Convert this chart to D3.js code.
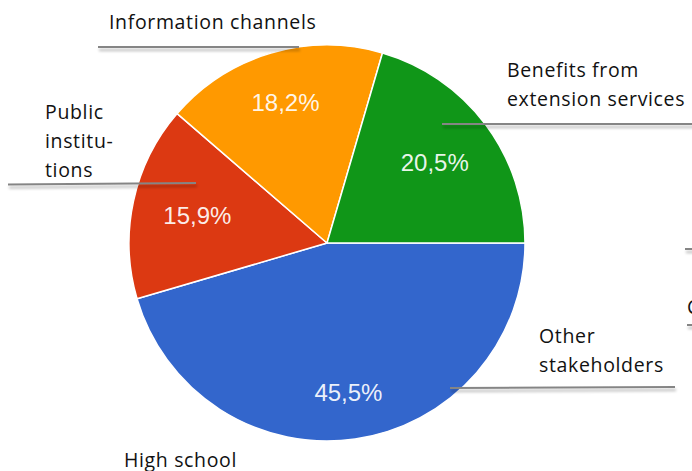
<!DOCTYPE html>
<html>
<head>
<meta charset="utf-8">
<script src="https://cdn.jsdelivr.net/npm/d3@7"></script>
<style>
  html, body { margin: 0; padding: 0; background: #fff; overflow: hidden; }
  svg { display: block; }
</style>
</head>
<body>
<svg id="chart" width="692" height="471"></svg>
<script>
// Shares of respondents by category (percent)
const categories = ["Other stakeholders", "Public institutions", "Information channels", "Benefits from extension services"];
const values = [45.5, 15.9, 18.2, 20.5];
const valueLabels = ["45,5%", "15,9%", "18,2%", "20,5%"];
const colors = ["#3366cc", "#dc3912", "#ff9900", "#109618"];
// radial placement of the percentage inside each slice, as a fraction of the radius
const labelRadius = [0.76, 0.67, 0.74, 0.68];

const width = 692, height = 471;
const cx = 327, cy = 243, R = 198;

const svg = d3.select("#chart");

// soft shadow used under the callout lines
const defs = svg.append("defs");
const f = defs.append("filter").attr("id", "shadow")
  .attr("filterUnits", "userSpaceOnUse")
  .attr("x", 0).attr("y", 0).attr("width", width).attr("height", height);
f.append("feGaussianBlur").attr("in", "SourceAlpha").attr("stdDeviation", 1.6).attr("result", "b");
f.append("feOffset").attr("in", "b").attr("dx", 1).attr("dy", 3).attr("result", "o");
f.append("feComponentTransfer").attr("in", "o").attr("result", "s")
  .append("feFuncA").attr("type", "linear").attr("slope", 0.3);
const m = f.append("feMerge");
m.append("feMergeNode").attr("in", "s");
m.append("feMergeNode").attr("in", "SourceGraphic");

const pie = d3.pie()
  .sort(null)
  .startAngle(Math.PI / 2)
  .endAngle(Math.PI / 2 + 2 * Math.PI)
  .value(d => d.value);

const data = categories.map((c, i) => ({ name: c, value: values[i], label: valueLabels[i], color: colors[i], lr: labelRadius[i] }));
const arcs = pie(data);
const arc = d3.arc().innerRadius(0).outerRadius(R);

const g = svg.append("g").attr("transform", `translate(${cx},${cy})`);

g.selectAll("path.slice")
  .data(arcs)
  .join("path")
  .attr("class", "slice")
  .attr("d", arc)
  .attr("fill", d => d.data.color)
  .attr("stroke", "#ffffff")
  .attr("stroke-width", 1.5)
  .attr("stroke-linejoin", "round");

g.selectAll("text.pct")
  .data(arcs)
  .join("text")
  .attr("class", "pct")
  .attr("transform", d => {
    const a = (d.startAngle + d.endAngle) / 2;
    const r = R * d.data.lr;
    return `translate(${r * Math.sin(a)},${-r * Math.cos(a)})`;
  })
  .attr("text-anchor", "middle")
  .attr("dy", "0.36em")
  .attr("fill", "#ffffff")
  .attr("fill-opacity", 0.92)
  .style("font-family", "'Liberation Sans', Arial, sans-serif")
  .style("font-size", "24px")
  .text(d => d.data.label);

// callout annotations: leader lines and their text blocks
const leaders = [
  { x1: 98, y1: 47, x2: 299, y2: 47 },
  { x1: 8, y1: 184.5, x2: 196, y2: 183 },
  { x1: 442, y1: 124, x2: 700, y2: 124 },
  { x1: 450, y1: 388, x2: 675, y2: 387 },
  { x1: 685, y1: 249, x2: 700, y2: 249 },
  { x1: 687, y1: 325, x2: 700, y2: 325 }
];
const notes = [
  { x: 109, y: 29, lines: ["Information channels"] },
  { x: 45, y: 119, lines: ["Public", "institu-", "tions"] },
  { x: 507, y: 77, lines: ["Benefits from", "extension services"] },
  { x: 539, y: 343, lines: ["Other", "stakeholders"] },
  { x: 687, y: 314, lines: ["C"] },
  { x: 124, y: 467, lines: ["High school"] }
];

svg.append("g")
  .selectAll("line")
  .data(leaders)
  .join("line")
  .attr("x1", d => d.x1).attr("y1", d => d.y1)
  .attr("x2", d => d.x2).attr("y2", d => d.y2)
  .attr("stroke", "#858585")
  .attr("stroke-width", 2)
  .attr("filter", "url(#shadow)");

const noteG = svg.append("g")
  .style("font-family", "'Open Sans', Lato, sans-serif")
  .style("font-size", "19.5px")
  .style("letter-spacing", "0.65px")
  .style("font-variant-ligatures", "none")
  .attr("fill", "#111");

notes.forEach(n => {
  const t = noteG.append("text").attr("x", n.x).attr("y", n.y);
  n.lines.forEach((s, i) => {
    t.append("tspan").attr("x", n.x).attr("dy", i === 0 ? 0 : 29).text(s);
  });
});
</script>
</body>
</html>
